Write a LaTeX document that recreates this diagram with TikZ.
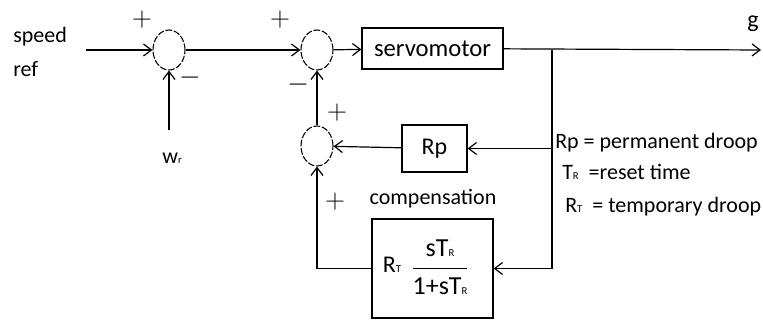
\documentclass[tikz,border=0pt]{standalone}
\usepackage{amsmath}
\usepackage{fontspec}
\setmainfont{Carlito}
\usepackage{tikz}
\usetikzlibrary{shapes.geometric, arrows.meta, positioning, calc}

\newcommand{\lowsc}[1]{{\fontsize{8}{8}\selectfont #1}}

\begin{document}
\begin{tikzpicture}[
        x=0.75pt, y=-0.75pt,
        block/.style={draw, rectangle, line width=0.9pt, inner sep=0pt},
        sumnode/.style={draw, ellipse, line width=0.8pt, minimum width=24pt, minimum height=30pt, inner sep=0pt, dash pattern=on 5pt off 1.3pt},
        line/.style={line width=0.9pt},
        arrow/.style={line, -{Straight Barb[length=6pt, width=9pt]}},
        lbl/.style={font=\fontsize{16.5}{19}\selectfont, inner sep=0pt},
        sign/.style={font=\fontsize{20}{20}\selectfont, inner sep=0pt}
    ]
        \useasboundingbox (0,0) rectangle (763,320);

        % summing points
        \node[sumnode] (sum1) at (169,50) {};
        \node[sumnode] (sum2) at (317,50) {};
        \node[sumnode] (sum3) at (317,146) {};

        % blocks
        \node[block, minimum width=105.75pt, minimum height=30.75pt, font=\fontsize{18.5}{20}\selectfont] (servo) at (432.5,48.5) {servomotor};
        \node[block, minimum width=48.75pt, minimum height=35.25pt, font=\fontsize{18}{20}\selectfont] (rp) at (434.5,148.5) {Rp};
        \node[block, minimum width=90.75pt, minimum height=74.25pt] (comp) at (432.5,268.5) {};
        \node[lbl, font=\fontsize{18}{20}\selectfont] (rt) at (392,265) {R\lowsc{T}};
        \node[inner sep=0pt, font=\fontsize{19.5}{21}\selectfont] (frac) at (440,267)
            {$\dfrac{\text{sT\lowsc{R}}}{\text{1+sT\lowsc{R}}}$};

        % free ends
        \coordinate (in) at (86,50);
        \coordinate (wr) at (169,130);
        \coordinate (br) at (552,50);
        \coordinate (out) at (761,50);

        % labels
        \node[lbl, anchor=west] (speed) at (13,37) {speed};
        \node[lbl, anchor=west] (ref) at (13,69) {ref};
        \node[lbl] (wrtext) at (172,158) {w\lowsc{r}};
        \node[lbl, font=\fontsize{18}{20}\selectfont] (g) at (753,24) {g};
        \node[lbl] (comptext) at (433,199) {compensation};
        \node[lbl, anchor=west] (leg1) at (555,143) {Rp = permanent droop};
        \node[lbl, anchor=west] (leg2) at (562,172) {T\lowsc{R}\ \ =reset time};
        \node[lbl, anchor=west] (leg3) at (565,207) {R\lowsc{T} \ = temporary droop};

        % signs
        \node[sign] (p1) at (142,20) {$+$};
        \node[sign] (m1) at (190,78) {$-$};
        \node[sign] (p2) at (280,20) {$+$};
        \node[sign] (m2) at (298,85) {$-$};
        \node[sign] (p3) at (337,113) {$+$};
        \node[sign] (p4) at (335,202) {$+$};

        % connections
        \draw[arrow] (in) -- (sum1);
        \draw[arrow] (wr) -- (sum1);
        \draw[arrow] (sum1) -- (sum2);
        \draw[arrow] (sum2) -- (servo);
        \draw[arrow] (servo) -- (out);
        \draw[arrow] (br) |- (rp);
        \draw[arrow] (br) |- (comp);
        \draw[arrow] (rp) -- (sum3);
        \draw[arrow] (sum3) -- (sum2);
        \draw[arrow] (comp) -| (sum3);

    \end{tikzpicture}
\end{document}
